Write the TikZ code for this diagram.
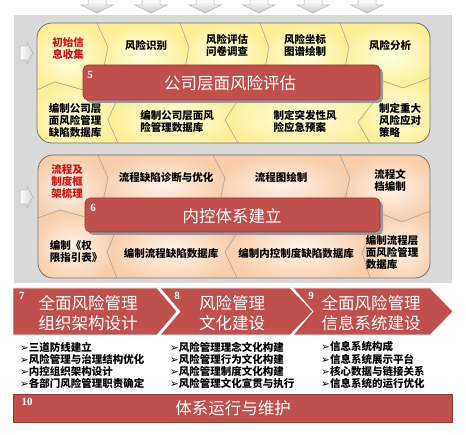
\documentclass[tikz,border=0pt]{standalone}
\usepackage{fontspec}
\setmainfont{Noto Sans CJK SC}
\newfontfamily\numfont{Liberation Serif}
\newfontfamily\symfont{DejaVu Sans}
\definecolor{bandred}{RGB}{192,80,77}
\definecolor{bandedge}{RGB}{150,55,52}
\definecolor{panelgray}{RGB}{217,217,217}
\definecolor{ylight}{RGB}{255,255,224}
\definecolor{ydeep}{RGB}{252,238,150}
\definecolor{plight}{RGB}{254,243,234}
\definecolor{pdeep}{RGB}{249,205,170}
\definecolor{headred}{RGB}{204,20,20}
\def\arrowbul{{\symfont ➢}}

\begin{document}
\begin{tikzpicture}[x=1pt,y=-1pt]
    \tikzstyle{cell}=[font=\fontsize{10.5}{12}\selectfont\bfseries,inner sep=0pt,align=center]
    \tikzstyle{celll}=[cell,align=left]
    \tikzstyle{seg}=[draw=black!35,line width=0.5pt]
    \tikzstyle{banner}=[fill=bandred,draw=bandedge,line width=0.6pt]
    \tikzstyle{title}=[font=\fontsize{16.5}{20}\selectfont,text=white,inner sep=0pt,align=center]
    \tikzstyle{num}=[font=\numfont\bfseries\fontsize{11}{11}\selectfont,text=white,inner sep=0pt]
    \tikzstyle{flow}=[top color=white,bottom color=black!22,draw=black!30,line width=0.5pt]
    \tikzstyle{bullets}=[font=\fontsize{10.5}{12}\selectfont\bfseries,inner sep=0pt,align=left,anchor=west]

    \useasboundingbox (0,0) rectangle (466,435);
    \fill[panelgray] (14,15) rectangle (452,283);

    \shadedraw[flow] (88,0) -- (106,0) -- (106,5) -- (113,5) -- (97,13) -- (81,5) -- (88,5) -- cycle;
    \shadedraw[flow] (142,0) -- (160,0) -- (160,5) -- (167,5) -- (151,13) -- (135,5) -- (142,5) -- cycle;
    \shadedraw[flow] (196,0) -- (214,0) -- (214,5) -- (221,5) -- (205,13) -- (189,5) -- (196,5) -- cycle;
    \shadedraw[flow] (250,0) -- (268,0) -- (268,5) -- (275,5) -- (259,13) -- (243,5) -- (250,5) -- cycle;
    \shadedraw[flow] (304,0) -- (322,0) -- (322,5) -- (329,5) -- (313,13) -- (297,5) -- (304,5) -- cycle;
    \shadedraw[flow] (358,0) -- (376,0) -- (376,5) -- (383,5) -- (367,13) -- (351,5) -- (358,5) -- cycle;

    \shadedraw[flow,left color=white,right color=black!18] (20,46) -- (27,46) -- (27,42) -- (33,53) -- (27,64) -- (27,60) -- (20,60) -- cycle;
    \shadedraw[flow,left color=white,right color=black!18] (20,190) -- (27,190) -- (27,186) -- (33,197) -- (27,208) -- (27,204) -- (20,204) -- cycle;

    \begin{scope}
        \clip[rounded corners=15] (37,23) rectangle (430,143);
        \shadedraw[seg,inner color=ylight,outer color=ydeep] (30,23) -- (97,23) -- (108,47) -- (100,86) -- (83,90) -- (55,82) -- (30,93) -- cycle;
        \shadedraw[seg,inner color=ylight,outer color=ydeep] (97,23) -- (180,23) -- (189,47) -- (182,86) -- (100,86) -- (108,47) -- cycle;
        \shadedraw[seg,inner color=ylight,outer color=ydeep] (180,23) -- (260,23) -- (269,47) -- (262,86) -- (182,86) -- (189,47) -- cycle;
        \shadedraw[seg,inner color=ylight,outer color=ydeep] (260,23) -- (340,23) -- (349,47) -- (342,84) -- (262,86) -- (269,47) -- cycle;
        \shadedraw[seg,inner color=ylight,outer color=ydeep] (340,23) -- (440,23) -- (440,76) -- (430,78) -- (403,88) -- (380,80) -- (342,84) -- (349,47) -- cycle;
        \shadedraw[seg,inner color=ylight,outer color=ydeep] (30,93) -- (55,82) -- (83,90) -- (115,88) -- (117,100) -- (108,120) -- (118,143) -- (118,150) -- (30,150) -- cycle;
        \shadedraw[seg,inner color=ylight,outer color=ydeep] (115,88) -- (238,88) -- (238,100) -- (225,120) -- (238,143) -- (238,150) -- (118,150) -- (118,143) -- (108,120) -- (117,100) -- cycle;
        \shadedraw[seg,inner color=ylight,outer color=ydeep] (238,88) -- (377,84) -- (377,98) -- (358,122) -- (370,143) -- (370,150) -- (238,150) -- (238,143) -- (225,120) -- (238,100) -- cycle;
        \shadedraw[seg,inner color=ylight,outer color=ydeep] (377,84) -- (380,80) -- (403,88) -- (430,78) -- (440,76) -- (440,150) -- (370,150) -- (370,143) -- (358,122) -- (377,98) -- cycle;
    \end{scope}
    \draw[black!55,line width=0.8pt,rounded corners=15] (37,23) rectangle (430,143);

    \begin{scope}
        \clip[rounded corners=15] (38,155) rectangle (430,278);
        \shadedraw[seg,inner color=plight,outer color=pdeep] (30,155) -- (98,155) -- (108,178) -- (100,215) -- (85,217) -- (60,210) -- (30,221) -- cycle;
        \shadedraw[seg,inner color=plight,outer color=pdeep] (98,155) -- (213,155) -- (225,178) -- (217,215) -- (100,215) -- (108,178) -- cycle;
        \shadedraw[seg,inner color=plight,outer color=pdeep] (213,155) -- (340,155) -- (350,178) -- (342,213) -- (217,215) -- (225,178) -- cycle;
        \shadedraw[seg,inner color=plight,outer color=pdeep] (340,155) -- (440,155) -- (440,210) -- (425,213) -- (402,222) -- (380,213) -- (342,213) -- (350,178) -- cycle;
        \shadedraw[seg,inner color=plight,outer color=pdeep] (30,221) -- (60,210) -- (85,217) -- (115,217) -- (115,233) -- (107,252) -- (117,278) -- (117,285) -- (30,285) -- cycle;
        \shadedraw[seg,inner color=plight,outer color=pdeep] (115,217) -- (237,217) -- (237,233) -- (225,252) -- (237,278) -- (237,285) -- (117,285) -- (117,278) -- (107,252) -- (115,233) -- cycle;
        \shadedraw[seg,inner color=plight,outer color=pdeep] (237,217) -- (375,213) -- (375,228) -- (362,252) -- (370,278) -- (370,285) -- (237,285) -- (237,278) -- (225,252) -- (237,233) -- cycle;
        \shadedraw[seg,inner color=plight,outer color=pdeep] (375,213) -- (380,213) -- (402,222) -- (425,213) -- (440,210) -- (440,285) -- (370,285) -- (370,278) -- (362,252) -- (375,228) -- cycle;
    \end{scope}
    \draw[black!55,line width=0.8pt,rounded corners=15] (38,155) rectangle (430,278);

    \node[cell,text=headred] (a1) at (68,48) {初始信\\息收集};
    \node[cell] (a2) at (146,45) {风险识别};
    \node[cell] (a3) at (227,45) {风险评估\\问卷调查};
    \node[cell] (a4) at (305,45) {风险坐标\\图谱绘制};
    \node[cell] (a5) at (390,45) {风险分析};
    \node[cell] (a6) at (75,120) {编制公司层\\面风险管理\\缺陷数据库};
    \node[celll] (a7) at (177,121) {编制公司层面风\\险管理数据库};
    \node[celll] (a8) at (305,121) {制定突发性风\\险应急预案};
    \node[celll] (a9) at (400,120) {制定重大\\风险应对\\策略};

    \node[celll,text=headred] (c1) at (67,182) {流程及\\制度框\\架梳理};
    \node[cell] (c2) at (166,178) {流程缺陷诊断与优化};
    \node[cell] (c3) at (281,177) {流程图绘制};
    \node[cell] (c4) at (390,180) {流程文\\档编制};
    \node[celll] (c5) at (392,252) {编制流程层\\面风险管理\\数据库};
    \node[cell] (c6) at (296,253) {编制内控制度缺陷数据库};
    \node[cell] (c7) at (171,253) {编制流程缺陷数据库};
    \node[celll] (c8) at (76,251) {编制《权\\限指引表》};

    \fill[black!40,rounded corners=5] (86,68) rectangle (383,103);
    \draw[banner,rounded corners=5] (83,65) rectangle (380,100);
    \node[num] (n5) at (90,75) {5};
    \node[title] (b5) at (230,83) {公司层面风险评估};

    \fill[black!40,rounded corners=5] (88,201) rectangle (383,235);
    \draw[banner,rounded corners=5] (85,198) rectangle (380,232);
    \node[num] (n6) at (93,208) {6};
    \node[title] (b6) at (232,216) {内控体系建立};

    \draw[banner,draw=white] (13,288) -- (157,288) -- (177,311.5) -- (157,335) -- (13,335) -- cycle;
    \draw[banner,draw=white] (160,288) -- (290,288) -- (313,311.5) -- (290,335) -- (160,335) -- (180,311.5) -- cycle;
    \draw[banner,draw=white] (293,288) -- (430,288) -- (453,311.5) -- (430,335) -- (293,335) -- (313,311.5) -- cycle;
    \node[num] (n7) at (22,296) {7};
    \node[title] (b7) at (88,313) {全面风险管理\\组织架构设计};
    \node[num] (n8) at (177,296) {8};
    \node[title] (b8) at (232,313) {风险管理\\文化建设};
    \node[num] (n9) at (311,296) {9};
    \node[title] (b9) at (371,313) {全面风险管理\\信息系统建设};

    \node[bullets] (l7) at (20,365) {\arrowbul 三道防线建立\\\arrowbul 风险管理与治理结构优化\\\arrowbul 内控组织架构设计\\\arrowbul 各部门风险管理职责确定};
    \node[bullets] (l8) at (170,365) {\arrowbul 风险管理理念文化构建\\\arrowbul 风险管理行为文化构建\\\arrowbul 风险管理制度文化构建\\\arrowbul 风险管理文化宣贯与执行};
    \node[bullets] (l9) at (321,365) {\arrowbul 信息系统构成\\\arrowbul 信息系统展示平台\\\arrowbul 核心数据与链接关系\\\arrowbul 信息系统的运行优化};

    \draw[banner] (13,394) rectangle (452,422);
    \node[num] (n10) at (27,402) {10};
    \node[title] (b10) at (233,408) {体系运行与维护};
\end{tikzpicture}
\end{document}
